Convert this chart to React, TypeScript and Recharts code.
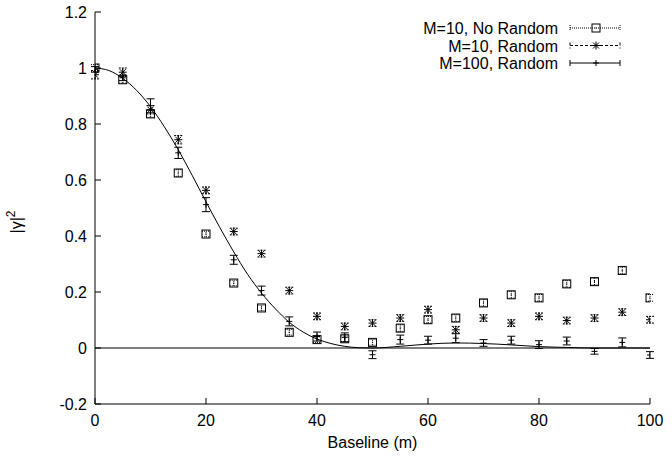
import {
  ComposedChart,
  ErrorBar,
  Legend,
  Line,
  ReferenceLine,
  Scatter,
  XAxis,
  YAxis,
} from "recharts";

// baseline positions (m)
const baselines = [0, 5, 10, 15, 20, 25, 30, 35, 40, 45, 50, 55, 60, 65, 70, 75, 80, 85, 90, 95, 100];

const m10NoRandom = [1.0, 0.958, 0.836, 0.625, 0.407, 0.232, 0.143, 0.056, 0.03, 0.033, 0.02, 0.071, 0.101, 0.107, 0.161, 0.19, 0.179, 0.229, 0.237, 0.277, 0.179];
const m10NoRandomErr = [0.012, 0.012, 0.012, 0.012, 0.01, 0.01, 0.01, 0.01, 0.01, 0.01, 0.01, 0.012, 0.012, 0.012, 0.012, 0.012, 0.012, 0.012, 0.012, 0.012, 0.012];

const m10Random = [0.976, 0.985, 0.851, 0.744, 0.563, 0.416, 0.337, 0.205, 0.113, 0.077, 0.089, 0.107, 0.137, 0.065, 0.107, 0.089, 0.113, 0.098, 0.107, 0.128, 0.101];
const m10RandomErr = [0.015, 0.015, 0.015, 0.015, 0.012, 0.012, 0.012, 0.012, 0.012, 0.012, 0.012, 0.012, 0.012, 0.012, 0.012, 0.012, 0.012, 0.012, 0.012, 0.012, 0.012];

const m100Random = [0.995, 0.965, 0.865, 0.697, 0.512, 0.315, 0.205, 0.095, 0.041, 0.038, -0.024, 0.03, 0.028, 0.035, 0.018, 0.028, 0.012, 0.025, -0.012, 0.02, -0.025];
const m100RandomErr = [0.01, 0.01, 0.025, 0.02, 0.025, 0.016, 0.016, 0.016, 0.016, 0.016, 0.014, 0.016, 0.014, 0.016, 0.012, 0.014, 0.014, 0.014, 0.01, 0.016, 0.012];

// theory curve
const curveX = [0, 2.5, 5, 7.5, 10, 12.5, 15, 17.5, 20, 22.5, 25, 27.5, 30, 32.5, 35, 37.5, 40, 42.5, 45, 47.5, 50, 55, 60, 65, 70, 75, 80, 85, 90, 95, 100];
const curveY = [1.0, 0.991, 0.963, 0.92, 0.862, 0.79, 0.708, 0.617, 0.522, 0.43, 0.343, 0.263, 0.196, 0.14, 0.092, 0.057, 0.032, 0.016, 0.006, 0.001, 0.0, 0.006, 0.014, 0.018, 0.016, 0.011, 0.005, 0.002, 0.0, 0.0, 0.0];

const xTicks = [0, 20, 40, 60, 80, 100];
const yTicks = [-0.2, 0, 0.2, 0.4, 0.6, 0.8, 1, 1.2];

const legendNames = ["M=10, No Random", "M=10, Random", "M=100, Random"];

const zip = (ys: number[], errs: number[]) =>
  baselines.map((x, i) => ({ x, y: ys[i], err: errs[i] }));

const sqData = zip(m10NoRandom, m10NoRandomErr);
const starData = zip(m10Random, m10RandomErr);
const plusData = zip(m100Random, m100RandomErr);
const curveData = curveX.map((x, i) => ({ x, y: curveY[i] }));

const FONT = "'Liberation Sans', Arial, Helvetica, sans-serif";

const SquareMark = (p: any) => (
  <g>
    <rect x={p.cx - 4} y={p.cy - 4} width={8} height={8} fill="none" stroke="#000" strokeWidth={1} />
    <rect x={p.cx - 0.5} y={p.cy - 0.5} width={1} height={1} fill="#000" />
  </g>
);

const StarMark = (p: any) => (
  <g stroke="#000" strokeWidth={1}>
    <line x1={p.cx - 4} x2={p.cx + 4} y1={p.cy} y2={p.cy} />
    <line x1={p.cx} x2={p.cx} y1={p.cy - 4} y2={p.cy + 4} />
    <line x1={p.cx - 3} x2={p.cx + 3} y1={p.cy - 3} y2={p.cy + 3} />
    <line x1={p.cx - 3} x2={p.cx + 3} y1={p.cy + 3} y2={p.cy - 3} />
  </g>
);

const PlusMark = (p: any) => (
  <g stroke="#000" strokeWidth={1}>
    <line x1={p.cx - 3} x2={p.cx + 3} y1={p.cy} y2={p.cy} />
    <line x1={p.cx} x2={p.cx} y1={p.cy - 3} y2={p.cy + 3} />
  </g>
);

const BottomTick = (p: any) => (
  <g>
    <line x1={p.x} x2={p.x} y1={p.y} y2={p.y - 6} stroke="#000" />
    <text x={p.x} y={p.y + 22} textAnchor="middle" fontSize={16} fontFamily={FONT} fill="#000">
      {p.payload.value}
    </text>
  </g>
);

const TopTick = (p: any) => (
  <line x1={p.x} x2={p.x} y1={p.y} y2={p.y + 6} stroke="#000" />
);

const LeftTick = (p: any) => (
  <g>
    <line x1={p.x} x2={p.x + 6} y1={p.y} y2={p.y} stroke="#000" />
    <text x={p.x - 8} y={p.y + 6} textAnchor="end" fontSize={16} fontFamily={FONT} fill="#000">
      {Math.round(p.payload.value * 10) / 10}
    </text>
  </g>
);

const RightTick = (p: any) => (
  <line x1={p.x} x2={p.x - 6} y1={p.y} y2={p.y} stroke="#000" />
);

const YLabel = (p: any) => {
  const vb = p.viewBox;
  const x = vb.x + 22;
  const y = vb.y + vb.height / 2 + 14;
  return (
    <text
      x={x}
      y={y}
      transform={`rotate(-90, ${x}, ${y})`}
      textAnchor="middle"
      fontSize={16}
      fontFamily={FONT}
      fill="#000"
    >
      |γ|<tspan dy={-7} fontSize={12}>2</tspan>
    </text>
  );
};

const LegendBox = () => {
  const rows = [
    { dash: "1 1", mark: "square" },
    { dash: "3 2", mark: "star" },
    { dash: undefined, mark: "plus" },
  ];
  return (
    <svg width={240} height={62} style={{ display: "block" }}>
      {rows.map((r, i) => {
        const cy = 10 + i * 17.5;
        return (
          <g key={i}>
            <text x={158} y={cy + 6} textAnchor="end" fontSize={16} fontFamily={FONT} fill="#000">
              {legendNames[i]}
            </text>
            <line x1={170} x2={220} y1={cy} y2={cy} stroke="#000" strokeWidth={1} strokeDasharray={r.dash} />
            <line x1={170} x2={170} y1={cy - 3} y2={cy + 3} stroke="#000" strokeDasharray={r.dash} />
            <line x1={220} x2={220} y1={cy - 3} y2={cy + 3} stroke="#000" strokeDasharray={r.dash} />
            {r.mark === "square" && <SquareMark cx={196} cy={cy} />}
            {r.mark === "star" && <StarMark cx={196} cy={cy} />}
            {r.mark === "plus" && <PlusMark cx={196} cy={cy} />}
          </g>
        );
      })}
    </svg>
  );
};

export default function App() {
  return (
    <div style={{ width: 672, height: 460, background: "#fff" }}>
      <style>{"body{margin:0}"}</style>
      <ComposedChart width={672} height={460} margin={{ top: 12, right: 22, bottom: 0, left: 0 }}>
        <XAxis
          dataKey="x"
          type="number"
          domain={[0, 100]}
          ticks={xTicks}
          allowDataOverflow
          axisLine={{ stroke: "#000" }}
          tickLine={false}
          tickSize={0}
          tickMargin={0}
          tick={BottomTick}
          height={56}
          label={{
            value: "Baseline (m)",
            position: "insideBottom",
            offset: 12,
            fontSize: 16,
            fontFamily: FONT,
            fill: "#000",
          }}
        />
        <XAxis
          xAxisId="top"
          orientation="top"
          dataKey="x"
          type="number"
          domain={[0, 100]}
          ticks={xTicks}
          allowDataOverflow
          axisLine={{ stroke: "#000" }}
          tickLine={false}
          tickSize={0}
          tickMargin={0}
          tick={TopTick}
          height={0}
        />
        <YAxis
          type="number"
          domain={[-0.2, 1.2]}
          ticks={yTicks}
          allowDataOverflow
          axisLine={{ stroke: "#000" }}
          tickLine={false}
          tickSize={0}
          tickMargin={0}
          tick={LeftTick}
          width={95}
          label={{ content: YLabel }}
        />
        <YAxis
          yAxisId="right"
          orientation="right"
          type="number"
          domain={[-0.2, 1.2]}
          ticks={yTicks}
          allowDataOverflow
          axisLine={{ stroke: "#000" }}
          tickLine={false}
          tickSize={0}
          tickMargin={0}
          tick={RightTick}
          width={0}
        />
        <ReferenceLine y={0} stroke="#000" strokeWidth={1} />
        <Line
          data={curveData}
          dataKey="y"
          type="monotone"
          stroke="#000"
          strokeWidth={1}
          dot={false}
          activeDot={false}
          isAnimationActive={false}
        />
        <Scatter data={sqData} dataKey="y" shape={SquareMark} isAnimationActive={false}>
          <ErrorBar dataKey="err" direction="y" width={4} stroke="#000" strokeWidth={1} strokeDasharray="1 1" />
        </Scatter>
        <Scatter data={starData} dataKey="y" shape={StarMark} isAnimationActive={false}>
          <ErrorBar dataKey="err" direction="y" width={4} stroke="#000" strokeWidth={1} strokeDasharray="2 1" />
        </Scatter>
        <Scatter data={plusData} dataKey="y" shape={PlusMark} isAnimationActive={false}>
          <ErrorBar dataKey="err" direction="y" width={4} stroke="#000" strokeWidth={1} />
        </Scatter>
        <Legend
          content={LegendBox}
          layout="vertical"
          align="center"
          verticalAlign="middle"
          wrapperStyle={{ position: "absolute", top: 18, left: 400, width: 240, height: 62 }}
        />
      </ComposedChart>
    </div>
  );
}
